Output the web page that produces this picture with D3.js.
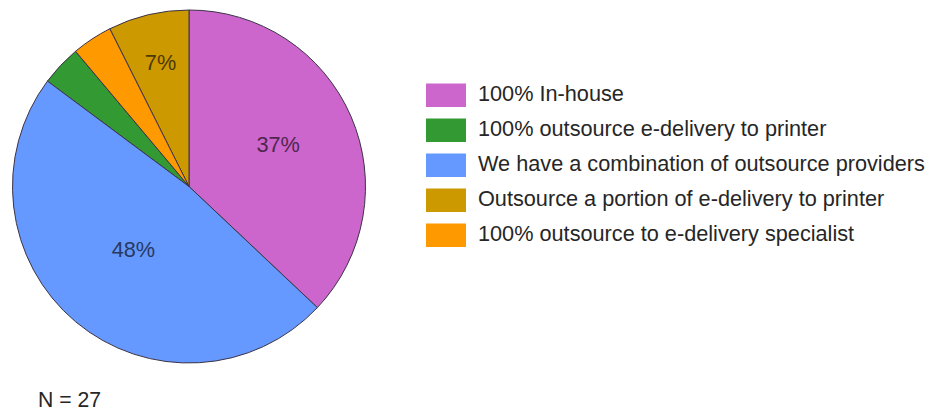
<!DOCTYPE html>
<html>
<head>
<meta charset="utf-8">
<script src="https://cdn.jsdelivr.net/npm/d3@7"></script>
<style>
  html, body { margin: 0; padding: 0; background: #ffffff; }
  svg { display: block; font-family: "Liberation Sans", Arial, sans-serif; }
</style>
</head>
<body>
<svg id="chart" width="943" height="413"></svg>
<script>
// Survey answers, in legend order
const categories = [
  "100% In-house",
  "100% outsource e-delivery to printer",
  "We have a combination of outsource providers",
  "Outsource a portion of e-delivery to printer",
  "100% outsource to e-delivery specialist"
];
const counts = [10, 1, 13, 2, 1];
const colors = ["#cc66cc", "#339933", "#6699ff", "#cc9900", "#ff9900"];
// Clockwise order of the slices, starting at twelve o'clock
const sliceOrder = [
  "100% In-house",
  "We have a combination of outsource providers",
  "100% outsource e-delivery to printer",
  "100% outsource to e-delivery specialist",
  "Outsource a portion of e-delivery to printer"
];
const sampleLabel = "N = 27";

const data = categories.map((c, i) => ({ name: c, value: counts[i], color: colors[i] }));
const total = d3.sum(counts);

const svg = d3.select("#chart");
const cx = 189, cy = 186.5, radius = 176.5;

const pie = d3.pie()
  .value(d => d.value)
  .sort((a, b) => sliceOrder.indexOf(a.name) - sliceOrder.indexOf(b.name));

const arc = d3.arc().innerRadius(0).outerRadius(radius);
const arcs = pie(data);

const g = svg.append("g").attr("transform", `translate(${cx},${cy})`);

g.selectAll("path.slice")
  .data(arcs)
  .join("path")
  .attr("class", "slice")
  .attr("d", arc)
  .attr("fill", d => d.data.color)
  .attr("stroke", "#3b3346")
  .attr("stroke-width", 1)
  .attr("stroke-linejoin", "round");

// Percent labels: small slices are pushed further out, large ones pulled in
function labelRadius(share) {
  if (share < 0.1) return radius * 0.70;
  if (share > 0.45) return radius * 0.49;
  return radius * 0.55;
}

g.selectAll("text.pct")
  .data(arcs.filter(d => d.data.value / total > 0.05))
  .join("text")
  .attr("class", "pct")
  .attr("transform", d => {
    const r = labelRadius(d.data.value / total);
    const a = (d.startAngle + d.endAngle) / 2;
    return `translate(${Math.sin(a) * r},${-Math.cos(a) * r})`;
  })
  .attr("text-anchor", "middle")
  .attr("dy", "0.18em")
  .attr("font-size", 21.7)
  .attr("fill", d => d3.color(d.data.color).darker(2.7))
  .text(d => d3.format(".0%")(d.data.value / total));

// Legend
const legend = svg.append("g").attr("transform", "translate(426,83.5)");
const rowStep = 35;
const rows = legend.selectAll("g.row")
  .data(data)
  .join("g")
  .attr("class", "row")
  .attr("transform", (d, i) => `translate(0,${i * rowStep})`);

rows.append("rect")
  .attr("width", 40)
  .attr("height", 23.5)
  .attr("fill", d => d.color);

rows.append("text")
  .attr("x", 52)
  .attr("y", 17.5)
  .attr("font-size", 21.7)
  .attr("fill", "#262626")
  .text(d => d.name);

svg.append("text")
  .attr("x", 38)
  .attr("y", 407)
  .attr("font-size", 21.2)
  .attr("fill", "#262626")
  .text(sampleLabel);
</script>
</body>
</html>
